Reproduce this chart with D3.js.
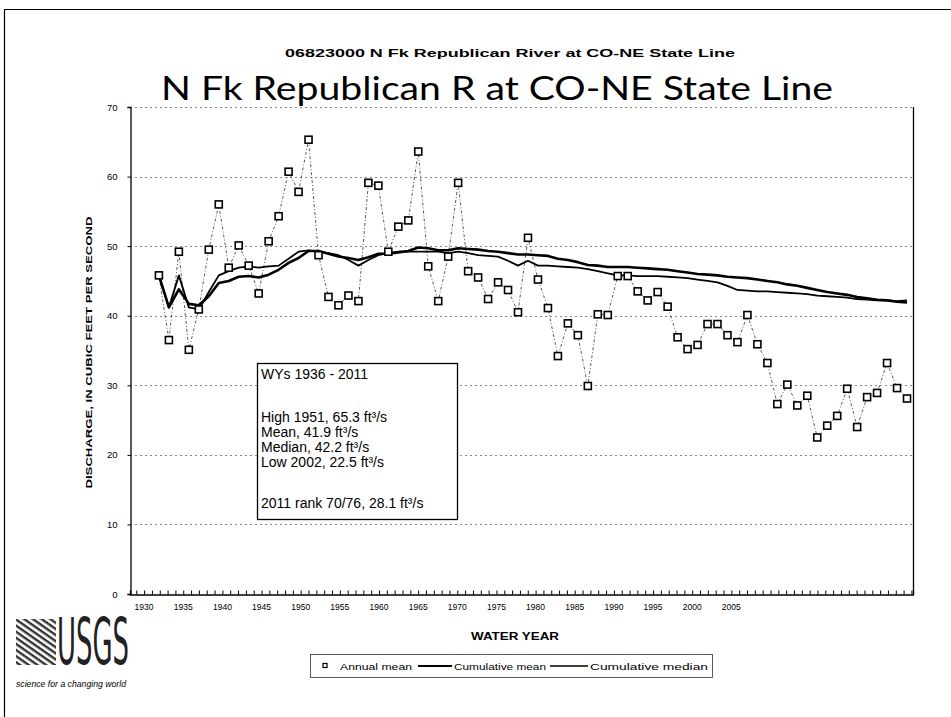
<!DOCTYPE html>
<html>
<head>
<meta charset="utf-8">
<script src="https://cdn.jsdelivr.net/npm/d3@7"></script>
<style>
  html, body { margin: 0; padding: 0; background: #fff; }
  svg { display: block; }
</style>
</head>
<body>
<svg id="chart" width="951" height="717"></svg>
<script>
// Water years on record
const years = [
  1936, 1937, 1938, 1939, 1940, 1941, 1942, 1943, 1944, 1945,
  1946, 1947, 1948, 1949, 1950, 1951, 1952, 1953, 1954, 1955,
  1956, 1957, 1958, 1959, 1960, 1961, 1962, 1963, 1964, 1965,
  1966, 1967, 1968, 1969, 1970, 1971, 1972, 1973, 1974, 1975,
  1976, 1977, 1978, 1979, 1980, 1981, 1982, 1983, 1984, 1985,
  1986, 1987, 1988, 1989, 1990, 1991, 1992, 1993, 1994, 1995,
  1996, 1997, 1998, 1999, 2000, 2001, 2002, 2003, 2004, 2005,
  2006, 2007, 2008, 2009, 2010, 2011
];

// Annual mean discharge, ft3/s
const annualMean = [
  45.8, 36.5, 49.2, 35.1, 40.9, 49.5, 56.0, 46.9, 50.1, 47.2,
  43.2, 50.7, 54.3, 60.7, 57.8, 65.3, 48.7, 42.7, 41.5, 42.9,
  42.1, 59.1, 58.7, 49.2, 52.8, 53.7, 63.6, 47.1, 42.1, 48.5,
  59.1, 46.4, 45.5, 42.4, 44.8, 43.7, 40.5, 51.2, 45.2, 41.1,
  34.2, 38.9, 37.2, 29.9, 40.2, 40.1, 45.7, 45.7, 43.5, 42.2,
  43.4, 41.3, 36.9, 35.2, 35.8, 38.8, 38.8, 37.2, 36.2, 40.1,
  35.9, 33.2, 27.3, 30.1, 27.1, 28.5, 22.5, 24.2, 25.6, 29.5,
  24.0, 28.3, 28.9, 33.2, 29.6, 28.1
];

// Cumulative mean, ft3/s
const cumulativeMean = [
  45.8, 41.2, 43.8, 41.7, 41.5, 42.8, 44.7, 45.0, 45.6, 45.7,
  45.5, 45.9, 46.6, 47.6, 48.3, 49.3, 49.3, 48.9, 48.5, 48.3,
  48.0, 48.4, 48.9, 48.9, 49.1, 49.3, 49.8, 49.7, 49.4, 49.4,
  49.7, 49.6, 49.5, 49.3, 49.2, 49.0, 48.8, 48.8, 48.7, 48.6,
  48.2, 48.0, 47.7, 47.3, 47.2, 47.0, 47.0, 47.0, 46.9, 46.8,
  46.7, 46.6, 46.4, 46.2, 46.0, 45.9, 45.8, 45.6, 45.5, 45.4,
  45.2, 45.0, 44.8, 44.5, 44.3, 44.0, 43.7, 43.4, 43.2, 43.0,
  42.7, 42.5, 42.3, 42.2, 42.0, 41.9
];

// Cumulative median, ft3/s
const cumulativeMedian = [
  45.8, 41.2, 45.8, 41.2, 40.9, 43.4, 45.8, 46.4, 46.9, 47.1,
  46.9, 47.1, 47.2, 48.2, 49.2, 49.4, 49.2, 49.0, 48.7, 48.0,
  47.2, 48.0, 48.7, 49.0, 49.2, 49.2, 49.2, 49.2, 49.2, 49.0,
  49.2, 49.0, 48.7, 48.6, 48.5, 47.9, 47.2, 47.9, 47.2, 47.2,
  47.1, 47.0, 46.9, 46.7, 46.4, 46.1, 45.8, 45.8, 45.7, 45.7,
  45.7, 45.6, 45.5, 45.4, 45.2, 45.0, 44.8, 44.3, 43.7, 43.6,
  43.5, 43.5, 43.4, 43.3, 43.2, 43.1, 42.9, 42.8, 42.7, 42.6,
  42.4, 42.3, 42.2, 42.2, 42.1, 42.2
];

// Axis labels
const yTickValues = [0, 10, 20, 30, 40, 50, 60, 70];
const xTickLabels = [1930, 1935, 1940, 1945, 1950, 1955, 1960, 1965, 1970,
                     1975, 1980, 1985, 1990, 1995, 2000, 2005];

// Record summary (text and baseline offset within the box)
const statLines = [
  { t: "WYs 1936 - 2011", dy: 16 },
  { t: "High 1951, 65.3 ft\u00B3/s", dy: 59 },
  { t: "Mean, 41.9 ft\u00B3/s", dy: 74 },
  { t: "Median, 42.2 ft\u00B3/s", dy: 89 },
  { t: "Low 2002, 22.5 ft\u00B3/s", dy: 104 },
  { t: "2011 rank 70/76, 28.1 ft\u00B3/s", dy: 145 }
];

const svg = d3.select("#chart");
const sans = "'Liberation Sans', Arial, sans-serif";

// Page frame
svg.append("line").attr("x1", 4.5).attr("x2", 4.5).attr("y1", 9).attr("y2", 717)
  .attr("stroke", "#000").attr("stroke-width", 1.2);
svg.append("line").attr("x1", 4).attr("x2", 951).attr("y1", 9.5).attr("y2", 9.5)
  .attr("stroke", "#000").attr("stroke-width", 1);

// Plot area
const plot = { left: 130, right: 913, top: 107, bottom: 594 };

const y = d3.scaleLinear().domain([0, 70]).range([plot.bottom, plot.top]);
// Data positions (one slot per water year)
const x = d3.scaleLinear().domain([1933.1, 2011.6]).range([plot.left, plot.right]);
// Year labels along the bottom axis
const xLab = d3.scaleLinear().domain([1928.2, 2028.2]).range([plot.left, plot.right]);

// Gridlines
svg.append("g")
  .selectAll("line")
  .data(yTickValues.filter(d => d > 0))
  .join("line")
  .attr("x1", plot.left).attr("x2", plot.right)
  .attr("y1", d => Math.round(y(d)) + 0.5).attr("y2", d => Math.round(y(d)) + 0.5)
  .attr("stroke", "#888").attr("stroke-width", 1)
  .attr("stroke-dasharray", "2,3");

// Y axis
const yAxis = d3.axisLeft(y).tickValues(yTickValues).tickSize(3).tickPadding(10)
  .tickFormat(d3.format("d"));
const gy = svg.append("g").attr("transform", `translate(${plot.left + 0.5},0)`).call(yAxis);
gy.select(".domain").attr("stroke", "#000").attr("stroke-width", 1.3);
gy.selectAll(".tick line").attr("stroke", "#000");
gy.selectAll("text").attr("font-family", sans).attr("font-size", 9.5).attr("fill", "#000");

// Right border
svg.append("line").attr("x1", plot.right + 0.5).attr("x2", plot.right + 0.5)
  .attr("y1", plot.top).attr("y2", plot.bottom)
  .attr("stroke", "#000").attr("stroke-width", 1.3);

// X axis with yearly minor ticks (labels drawn separately)
const yearTicks = d3.range(1929, 2029);
const xAxis = d3.axisBottom(xLab).tickValues(yearTicks).tickSize(-4).tickFormat("");
const gx = svg.append("g").attr("transform", `translate(0,${plot.bottom + 0.5})`).call(xAxis);
gx.selectAll(".tick text").remove();
gx.select(".domain").attr("stroke", "#000").attr("stroke-width", 1.3);
gx.selectAll(".tick line").attr("stroke", "#000");

svg.append("g")
  .selectAll("text")
  .data(xTickLabels)
  .join("text")
  .attr("x", d => xLab(d))
  .attr("y", plot.bottom + 16)
  .attr("text-anchor", "middle")
  .attr("font-family", sans)
  .attr("font-size", 9.5)
  .attr("textLength", 19).attr("lengthAdjust", "spacingAndGlyphs")
  .text(d => d);

// Axis titles
svg.append("text")
  .attr("transform", `translate(92,${(plot.top + plot.bottom) / 2 + 2}) rotate(-90)`)
  .attr("text-anchor", "middle")
  .attr("font-family", sans).attr("font-weight", "bold").attr("font-size", 9.5)
  .attr("textLength", 272).attr("lengthAdjust", "spacingAndGlyphs")
  .text("DISCHARGE, IN CUBIC FEET PER SECOND");

svg.append("text")
  .attr("x", 515).attr("y", 640)
  .attr("text-anchor", "middle")
  .attr("font-family", sans).attr("font-weight", "bold").attr("font-size", 10.5)
  .attr("textLength", 88).attr("lengthAdjust", "spacingAndGlyphs")
  .text("WATER YEAR");

// Titles
svg.append("text")
  .attr("x", 510).attr("y", 57)
  .attr("text-anchor", "middle")
  .attr("font-family", sans).attr("font-weight", "bold").attr("font-size", 11.5)
  .attr("textLength", 450).attr("lengthAdjust", "spacingAndGlyphs")
  .text("06823000  N Fk Republican River at CO-NE State Line");

svg.append("text")
  .attr("x", 497).attr("y", 100)
  .attr("text-anchor", "middle")
  .attr("font-family", "Lato, 'Open Sans', sans-serif").attr("font-size", 33)
  .attr("textLength", 672).attr("lengthAdjust", "spacingAndGlyphs")
  .text("N Fk Republican R at CO-NE State Line");

// Series
const annual = years.map((yr, i) => ({ yr, v: annualMean[i] }));
const cmean = years.map((yr, i) => ({ yr, v: cumulativeMean[i] }));
const cmed = years.map((yr, i) => ({ yr, v: cumulativeMedian[i] }));

const line = d3.line().x(d => x(d.yr)).y(d => y(d.v));

svg.append("path").datum(annual)
  .attr("d", line).attr("fill", "none")
  .attr("stroke", "#333").attr("stroke-width", 0.8)
  .attr("stroke-dasharray", "3,2,1,2");

svg.append("path").datum(cmed)
  .attr("d", line).attr("fill", "none")
  .attr("stroke", "#000").attr("stroke-width", 1.8)
  .attr("stroke-linejoin", "round");

svg.append("path").datum(cmean)
  .attr("d", line).attr("fill", "none")
  .attr("stroke", "#000").attr("stroke-width", 2.6)
  .attr("stroke-linejoin", "round");

svg.append("g")
  .selectAll("rect")
  .data(annual)
  .join("rect")
  .attr("x", d => x(d.yr) - 3.5).attr("y", d => y(d.v) - 3.5)
  .attr("width", 7).attr("height", 7)
  .attr("fill", "#fff").attr("stroke", "#000").attr("stroke-width", 1.6);

// Summary box
const box = svg.append("g").attr("transform", "translate(257,363)");
box.append("rect").attr("x", 0.5).attr("y", 0.5).attr("width", 200).attr("height", 156)
  .attr("fill", "#fff").attr("stroke", "#000").attr("stroke-width", 1.3);
box.selectAll("text")
  .data(statLines)
  .join("text")
  .attr("x", 4)
  .attr("y", d => d.dy)
  .attr("font-family", sans).attr("font-size", 14)
  .text(d => d.t);

// Legend
const leg = svg.append("g").attr("transform", "translate(310,654)");
leg.append("rect").attr("x", 0.5).attr("y", 0.5).attr("width", 402).attr("height", 23)
  .attr("fill", "#fff").attr("stroke", "#333").attr("stroke-width", 0.8);
leg.append("rect").attr("x", 13).attr("y", 9.5).attr("width", 4).attr("height", 4)
  .attr("fill", "#fff").attr("stroke", "#000").attr("stroke-width", 1.2);
const legendItems = [
  { t: "Annual mean", x: 30, w: 72 },
  { t: "Cumulative mean", x: 144, w: 92 },
  { t: "Cumulative median", x: 280, w: 118 }
];
leg.selectAll("text.item")
  .data(legendItems)
  .join("text")
  .attr("class", "item")
  .attr("x", d => d.x).attr("y", 15.5)
  .attr("font-family", sans).attr("font-size", 8.5)
  .attr("textLength", d => d.w).attr("lengthAdjust", "spacingAndGlyphs")
  .text(d => d.t);
leg.append("line").attr("x1", 108).attr("x2", 142).attr("y1", 12).attr("y2", 12)
  .attr("stroke", "#000").attr("stroke-width", 2);
leg.append("line").attr("x1", 240).attr("x2", 278).attr("y1", 12).attr("y2", 12)
  .attr("stroke", "#000").attr("stroke-width", 1.4);

// USGS identifier
const logo = svg.append("g").attr("transform", "translate(16,618)");
const defs = svg.append("defs");
const pat = defs.append("pattern").attr("id", "waves")
  .attr("width", 5).attr("height", 5).attr("patternUnits", "userSpaceOnUse")
  .attr("patternTransform", "rotate(35)");
pat.append("rect").attr("width", 5).attr("height", 2.4).attr("fill", "#333");
logo.append("rect").attr("x", 0).attr("y", 1).attr("width", 40).attr("height", 46)
  .attr("fill", "url(#waves)");

// Wordmark: condensed letters, scaled so the advance width fits beside the wave panel
const word = logo.append("text")
  .attr("font-family", "'Liberation Sans Narrow', 'DejaVu Sans Condensed', sans-serif")
  .attr("font-size", 40)
  .attr("fill", "#222")
  .text("USGS");
const wordWidth = word.node().getComputedTextLength() || 72;
word.attr("transform", `translate(41,46) scale(${72 / wordWidth},1.6)`);

logo.append("text").attr("x", 0).attr("y", 69)
  .attr("font-family", sans).attr("font-style", "italic").attr("font-size", 8.5)
  .attr("textLength", 110).attr("lengthAdjust", "spacingAndGlyphs")
  .text("science for a changing world");
</script>
</body>
</html>
